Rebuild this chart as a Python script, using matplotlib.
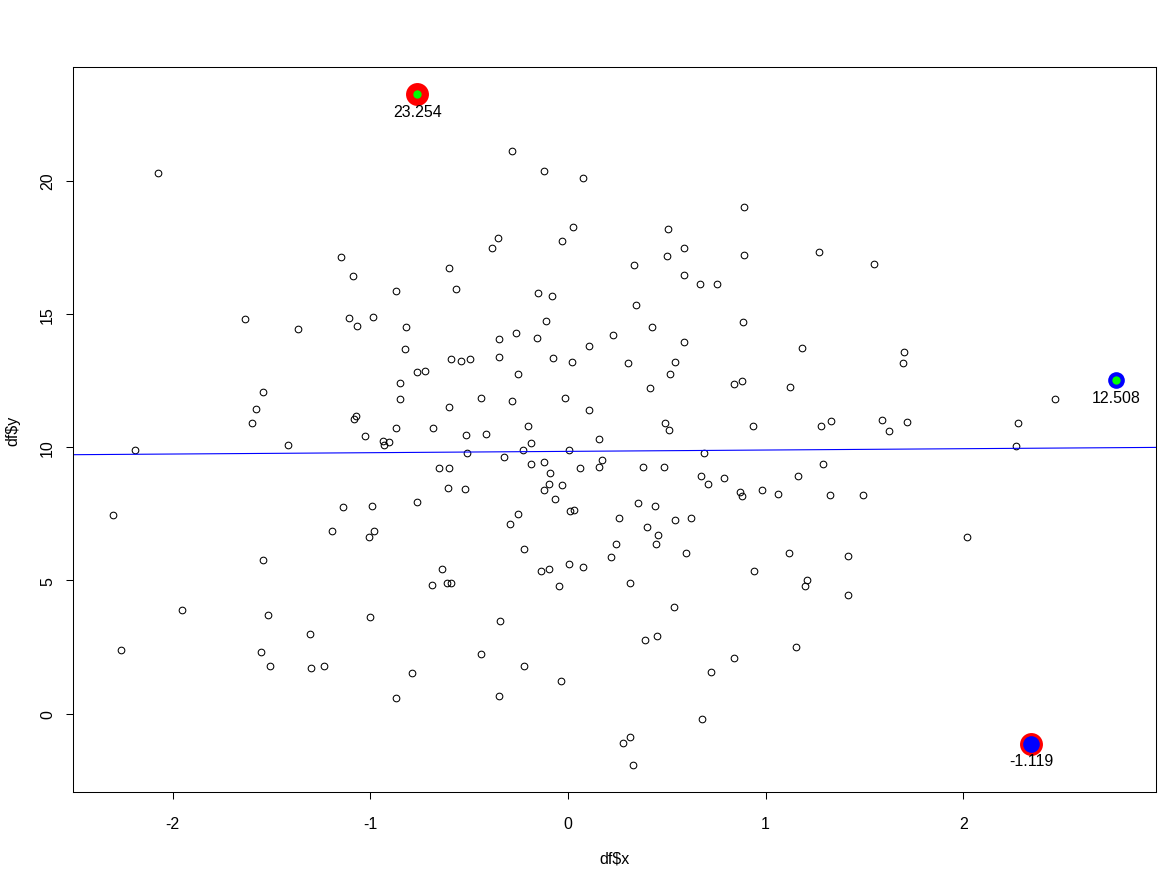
import numpy as np
import matplotlib
matplotlib.use("Agg")
import matplotlib.pyplot as plt

plt.rcParams['font.family'] = ['Liberation Sans', 'DejaVu Sans']
plt.rcParams['axes.unicode_minus'] = False

# scatter data (df$x, df$y)
x = np.array([
    -2.074, -1.151, -1.088, -0.872, -0.283, -0.121, 0.077, 0.893, 0.026, 0.508,
    -0.354, -0.385, -0.030, 0.589, 0.503, 0.893, -0.603, 0.335, 0.589, 0.670,
    0.756, -0.567, -0.152, -0.081, 0.345, 1.273, 1.549, -1.637, -1.364, -1.106,
    -1.069, -0.988, -0.821, -0.826, -0.765, -0.725, -0.851, -0.851, -1.543, -1.577,
    -1.597, -1.075, -1.085, -0.872, -0.684, -1.029, -0.938, -0.907, -0.933, -2.190,
    -1.419, -0.654, -2.302, -1.140, -0.993, -0.765, -1.196, -0.983, -1.009, -0.111,
    0.426, 0.888, -0.349, -0.263, -0.157, 0.229, 0.589, 0.107, -0.593, -0.542,
    -0.496, -0.349, -0.076, 0.021, 0.305, 0.543, -0.253, 0.518, 0.842, 0.883,
    0.416, 1.126, -0.441, -0.283, -0.015, -0.603, 0.107, 0.492, 0.513, 0.939,
    -0.202, -0.517, -0.415, -0.187, 0.158, -0.228, 0.006, -0.512, 0.690, -0.324,
    0.173, -0.603, -0.187, -0.121, 0.061, 0.158, 0.381, 0.487, -0.091, 0.675,
    0.792, 0.710, 1.162, -0.608, -0.522, -0.096, -0.030, -0.121, -0.065, 0.873,
    0.883, 0.984, 1.065, 0.355, 0.442, 0.011, 0.031, -0.253, -0.294, 0.259,
    0.401, 0.543, 0.624, 0.457, -0.223, 0.244, 0.447, 1.182, 1.699, 1.694,
    2.465, 1.283, 1.329, 1.588, 1.623, 1.715, 2.277, 2.267, 1.289, 1.324,
    1.491, 2.019, -1.541, -2.261, -1.952, -1.516, -1.308, -1.556, -1.506, -1.298,
    -1.237, -1.004, -0.689, -0.791, -0.872, -0.638, -0.613, -0.593, -0.136, -0.096,
    0.006, 0.077, -0.045, 0.219, 0.599, 1.121, 0.944, 0.315, 0.538, -0.344,
    -0.441, -0.223, -0.035, -0.349, 0.391, 0.452, 0.842, 0.726, 0.680, 0.279,
    0.315, 0.330, 1.415, 1.212, 1.202, 1.415, 1.152, -0.763, 2.773, 2.343,
])
y = np.array([
    20.27, 17.14, 16.43, 15.87, 21.09, 20.34, 20.08, 18.99, 18.27, 18.20,
    17.86, 17.48, 17.75, 17.48, 17.18, 17.22, 16.73, 16.84, 16.47, 16.13,
    16.13, 15.94, 15.79, 15.68, 15.34, 17.33, 16.87, 14.81, 14.44, 14.85,
    14.55, 14.89, 14.51, 13.68, 12.82, 12.86, 12.40, 11.80, 12.07, 11.43,
    10.90, 11.16, 11.05, 10.71, 10.71, 10.41, 10.22, 10.18, 10.07, 9.88,
    10.07, 9.21, 7.44, 7.74, 7.81, 7.93, 6.84, 6.87, 6.61, 14.74,
    14.51, 14.70, 14.06, 14.29, 14.10, 14.21, 13.95, 13.80, 13.31, 13.23,
    13.31, 13.38, 13.34, 13.19, 13.16, 13.19, 12.74, 12.74, 12.37, 12.48,
    12.22, 12.25, 11.84, 11.73, 11.84, 11.50, 11.39, 10.90, 10.64, 10.79,
    10.79, 10.45, 10.49, 10.15, 10.30, 9.88, 9.88, 9.77, 9.77, 9.62,
    9.51, 9.21, 9.36, 9.43, 9.21, 9.24, 9.24, 9.24, 9.02, 8.91,
    8.83, 8.60, 8.91, 8.45, 8.42, 8.60, 8.57, 8.38, 8.04, 8.30,
    8.15, 8.38, 8.23, 7.89, 7.78, 7.59, 7.66, 7.51, 7.10, 7.33,
    7.02, 7.25, 7.36, 6.72, 6.16, 6.38, 6.35, 13.72, 13.57, 13.16,
    11.80, 10.79, 10.97, 11.01, 10.60, 10.94, 10.90, 10.03, 9.36, 8.19,
    8.19, 6.61, 5.78, 2.40, 3.90, 3.71, 3.00, 2.32, 1.79, 1.72,
    1.79, 3.64, 4.84, 1.53, 0.59, 5.41, 4.92, 4.92, 5.37, 5.44,
    5.63, 5.52, 4.80, 5.86, 6.01, 6.01, 5.37, 4.92, 4.01, 3.49,
    2.25, 1.79, 1.23, 0.67, 2.77, 2.92, 2.10, 1.57, -0.20, -1.10,
    -0.88, -1.93, 5.90, 5.03, 4.80, 4.47, 2.51, 23.254, 12.508, -1.119,
])

# highlighted points: max y, max x, a low one
hl_x = [-0.763, 2.773, 2.343]
hl_y = [23.254, 12.508, -1.119]
hl_labels = ["23.254", "12.508", "-1.119"]

fig = plt.figure(figsize=(11.68, 8.78), dpi=100)
ax = fig.add_axes([0.0625, 0.0968, 0.9272, 0.8258])

ax.plot(x, y, 'o', mfc='none', mec='black', ms=4.8, mew=0.75, ls='none')

# lm fit line
slope, intercept = np.polyfit(x, y, 1)
ax.axline((0, intercept), slope=slope, color='blue', lw=0.8)

# highlight markers
ax.plot(hl_x[0], hl_y[0], 'o', color='red', ms=16.5, mew=0)
ax.plot(hl_x[0], hl_y[0], 'o', color='#00ff00', ms=6, mew=0)
ax.plot(hl_x[1], hl_y[1], 'o', color='blue', ms=12, mew=0)
ax.plot(hl_x[1], hl_y[1], 'o', color='#00ff00', ms=6, mew=0)
ax.plot(hl_x[2], hl_y[2], 'o', color='red', ms=16.5, mew=0)
ax.plot(hl_x[2], hl_y[2], 'o', color='blue', ms=12, mew=0)

for hx, hy, lab in zip(hl_x, hl_y, hl_labels):
    ax.annotate(lab, (hx, hy), xytext=(0, -12.5), textcoords='offset points',
                ha='center', va='center', fontsize=11.5)

# R style 4% padding
xr = x.max() - x.min()
yr = y.max() - y.min()
ax.set_xlim(x.min() - 0.04 * xr, x.max() + 0.04 * xr)
ax.set_ylim(y.min() - 0.04 * yr, y.max() + 0.04 * yr)

ax.set_xticks([-2, -1, 0, 1, 2])
ax.set_yticks([0, 5, 10, 15, 20])
ax.tick_params(direction='out', length=5, width=0.75, labelsize=11.5)
ax.tick_params(axis='x', pad=12)
ax.tick_params(axis='y', pad=8)
for lab in ax.get_yticklabels():
    lab.set_rotation(90)
    lab.set_va('center')
for sp in ax.spines.values():
    sp.set_linewidth(0.75)

ax.set_xlabel("df\\$x", fontsize=11.5, labelpad=14)
ax.set_ylabel("df\\$y", fontsize=11.5, labelpad=14)

fig.savefig("out.png", dpi=100)
